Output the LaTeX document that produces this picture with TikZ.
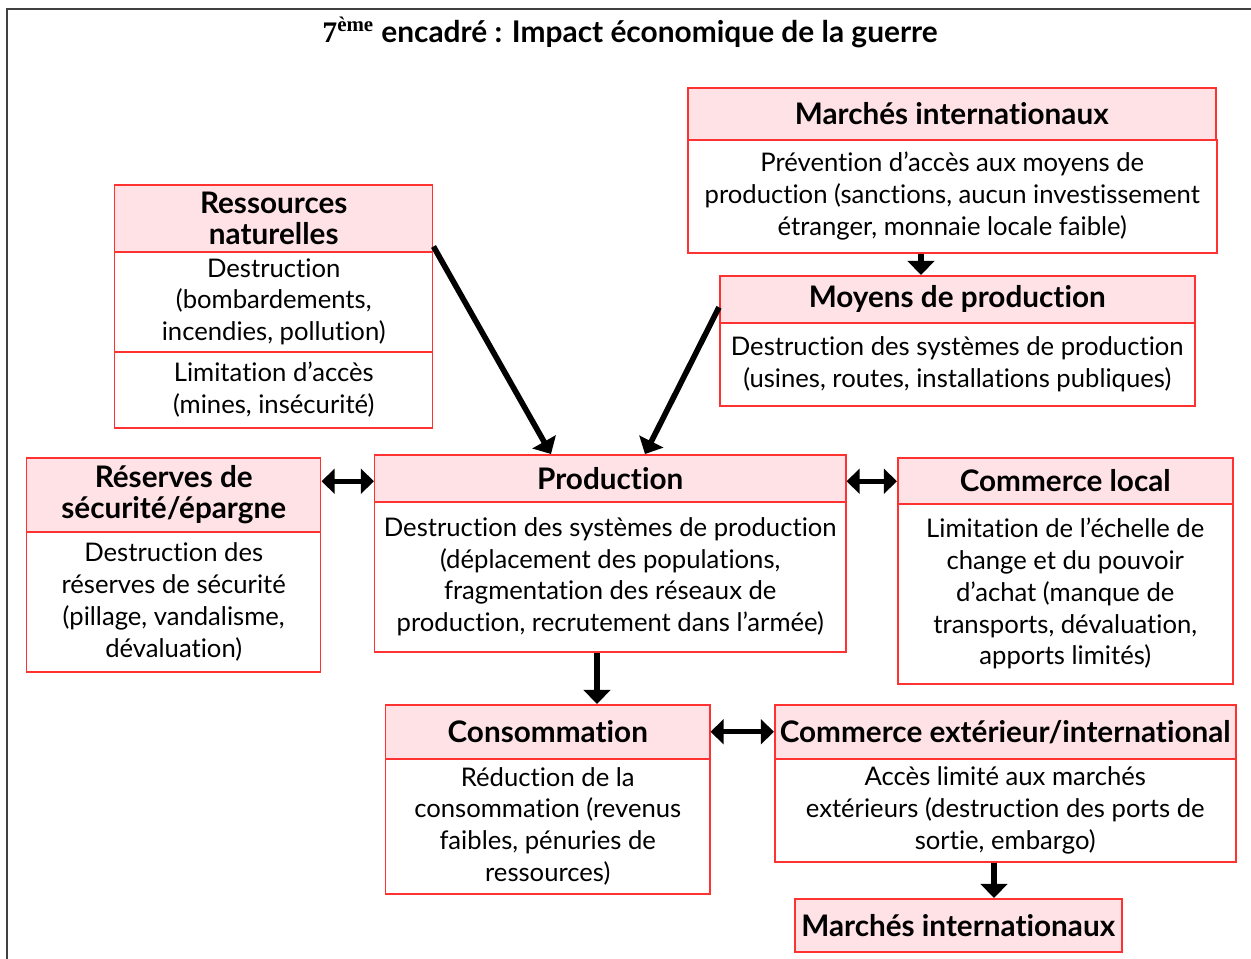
\documentclass[tikz,border=0pt]{standalone}
\usepackage{fontspec}
\setmainfont{Lato}[Ligatures={NoCommon,NoRare,NoDiscretionary}]
\newfontfamily\serifbf{Liberation Serif}
\usetikzlibrary{arrows.meta,calc}
\definecolor{boxred}{RGB}{255,50,50}
\definecolor{boxpink}{RGB}{255,226,230}
\tikzset{
  x=0.02cm, y=-0.02cm,
  hdr/.style={draw=boxred, line width=0.85pt, fill=boxpink, inner sep=0pt, align=center,
    font=\fontsize{16.9}{18}\selectfont\bfseries, anchor=north west},
  bdy/.style={draw=boxred, line width=0.85pt, fill=white, inner sep=0pt, align=center,
    font=\fontsize{14.6}{18.1}\selectfont, anchor=north west},
  arr/.style={line width=3.2pt, -{Triangle[length=8pt,width=15pt]}},
  darr/.style={line width=2.8pt, {Triangle[length=7.5pt,width=14pt]}-{Triangle[length=7.5pt,width=14pt]}},
  titlefont/.style={font=\fontsize{17}{19}\selectfont\bfseries},
}
\newcommand\bx[7]{\node[#6, minimum width={(#4-#2)*0.02cm}, minimum height={(#5-#3)*0.02cm}] (#1) at (#2,#3) {#7};}
\begin{document}
\begin{tikzpicture}
\useasboundingbox (0,0) rectangle (1251,958);
\draw[line width=1.1pt, black!75] (7,960) -- (7,9) -- (1252,9);
\node[titlefont] (title) at (630,32) {{\serifbf 7\textsuperscript{ème}} encadré : Impact économique de la guerre};

% Ressources naturelles
\bx{resH}{114}{184}{432}{251}{hdr}{Ressources\\naturelles}
\bx{resB1}{114}{251}{432}{351}{bdy}{Destruction\\(bombardements,\\incendies, pollution)}
\bx{resB2}{114}{351}{432}{427}{bdy}{Limitation d’accès\\(mines, insécurité)}

% Marchés internationaux (top)
\bx{mitH}{687}{87}{1215}{139}{hdr}{Marchés internationaux}
\bx{mitB}{687}{139}{1216}{252}{bdy}{Prévention d’accès aux moyens de\\production (sanctions, aucun investissement\\étranger, monnaie locale faible)}

% Moyens de production
\bx{moyH}{719}{275}{1194}{322}{hdr}{Moyens de production}
\bx{moyB}{719}{322}{1194}{405}{bdy}{Destruction des systèmes de production\\(usines, routes, installations publiques)}

% Réserves
\bx{resvH}{26}{457}{320}{531}{hdr}{Réserves de\\sécurité/épargne}
\bx{resvB}{26}{531}{320}{671}{bdy}{Destruction des\\réserves de sécurité\\(pillage, vandalisme,\\dévaluation)}

% Production
\bx{prodH}{374}{454}{845}{501}{hdr}{Production}
\bx{prodB}{374}{501}{845}{651}{bdy}{Destruction des systèmes de production\\(déplacement des populations,\\fragmentation des réseaux de\\production, recrutement dans l’armée)}

% Commerce local
\bx{clH}{897}{457}{1232}{503}{hdr}{Commerce local}
\bx{clB}{897}{503}{1232}{683}{bdy}{Limitation de l’échelle de\\change et du pouvoir\\d’achat (manque de\\transports, dévaluation,\\apports limités)}

% Consommation
\bx{conH}{385}{704}{709}{758}{hdr}{Consommation}
\bx{conB}{385}{758}{709}{893}{bdy}{Réduction de la\\consommation (revenus\\faibles, pénuries de\\ressources)}

% Commerce extérieur
\bx{ceH}{774}{704}{1235}{758}{hdr}{Commerce extérieur/international}
\bx{ceB}{774}{758}{1235}{861}{bdy}{Accès limité aux marchés\\extérieurs (destruction des ports de\\sortie, embargo)}

% Marchés internationaux (bottom)
\bx{mibH}{794}{898}{1121}{951}{hdr}{Marchés internationaux}

% Arrows
\draw[arr] ($(resH.south east)+(0,-6)$) -- ($(prodH.north west)+(177,0)$);
\draw[arr] ($(moyH.west)+(0,8)$) -- ($(prodH.north west)+(271,0)$);
\draw[arr] ($(mitB.south west)+(234,0)$) -- ($(moyH.north west)+(202,0)$);
\draw[darr] ($(resvH.east |- prodH.east)+(0,3)$) -- ($(prodH.west)+(0,3)$);
\draw[darr] ($(prodH.east)+(0,3)$) -- ($(prodH.east -| clH.west)+(0,3)$);
\draw[arr] ($(prodB.south west)+(223,0)$) -- ($(conH.north west)+(212,0)$);
\draw[darr] (conH.east) -- (conH.east -| ceH.west);
\draw[arr] ($(ceB.south west)+(220,0)$) -- ($(mibH.north west)+(200,0)$);
\end{tikzpicture}
\end{document}
